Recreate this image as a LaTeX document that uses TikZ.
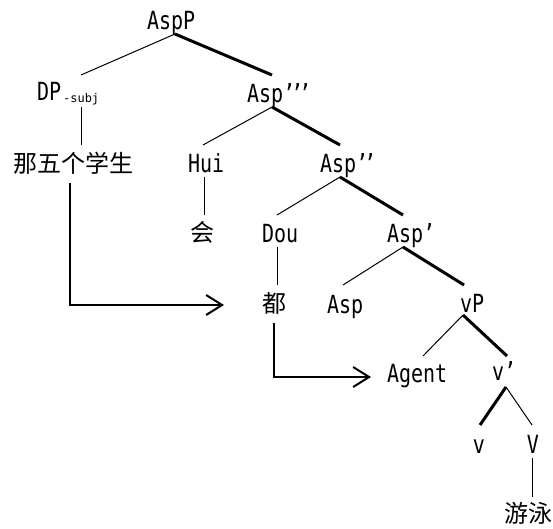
\documentclass[tikz,border=0pt]{standalone}
\usepackage{fontspec}
\newfontfamily\monof{DejaVu Sans Mono}
\newfontfamily\cjkf{Noto Sans CJK SC}
\usetikzlibrary{arrows.meta}
\newcommand{\lt}[1]{\scalebox{1}[1.25]{\fontsize{20}{20}\monof #1}}
\newcommand{\pk}{\kern-4pt}
\newcommand{\pq}{\char"2019}
\begin{document}
\begin{tikzpicture}[x=1pt,y=-1pt,
  lat/.style={inner sep=0pt,outer sep=0pt,anchor=base west},
  latc/.style={inner sep=0pt,outer sep=0pt,anchor=base},
  cjk/.style={inner sep=0pt,outer sep=0pt,anchor=center,font=\fontsize{24}{24}\cjkf},
  thin/.style={line width=1pt},
  thick/.style={line width=3pt},
  move/.style={line width=2pt,-{Straight Barb[length=16pt,width=20pt,line width=2pt]}}]
\useasboundingbox (0,0) rectangle (553,528);
% nodes
\node[lat] (aspP) at (147,29) {\lt{AspP}};
\node[lat] (dp) at (37,100) {\lt{DP}\kern2pt\raisebox{-2pt}{\fontsize{12}{12}\monof -subj}};
\node[cjk] (subj) at (73,163) {那五个学生};
\node[lat] (asp3) at (247,102) {\lt{Asp\pq\pk\pq\pk\pq}};
\node[lat] (hui) at (188,172) {\lt{Hui}};
\node[cjk] (hui2) at (202,232) {会};
\node[lat] (asp2) at (320,172) {\lt{Asp\pq\pk\pq}};
\node[lat] (dou) at (262,242) {\lt{Dou}};
\node[cjk] (dou2) at (274,303) {都};
\node[lat] (asp1) at (387,242) {\lt{Asp\pq}};
\node[lat] (asp) at (327,313) {\lt{Asp}};
\node[lat] (vP) at (460,312) {\lt{vP}};
\node[lat] (agent) at (387,382) {\lt{Agent}};
\node[lat] (vbar) at (492,380) {\lt{v\pq}};
\node[latc] (v) at (479,453) {\lt{v}};
\node[latc] (V) at (533,453) {\lt{V}};
\node[cjk] (swim) at (528,513) {游泳};
% attachment points
\coordinate (aspP-b) at (175,34);
\coordinate (dp-t) at (81,75);
\coordinate (dp-b) at (81,107);
\coordinate (subj-t) at (81,145);
\coordinate (subj-b) at (70,183);
\coordinate (asp3-t) at (272,75);
\coordinate (asp3-b) at (272,107);
\coordinate (hui-t) at (203,145);
\coordinate (hui-b) at (204,177);
\coordinate (hui2-t) at (204,215);
\coordinate (asp2-t) at (340,145);
\coordinate (asp2-b) at (340,177);
\coordinate (dou-t) at (277,215);
\coordinate (dou-b) at (277,247);
\coordinate (dou2-t) at (277,285);
\coordinate (dou2-b) at (274,323);
\coordinate (asp1-t) at (403,215);
\coordinate (asp1-b) at (403,247);
\coordinate (asp-t) at (343,285);
\coordinate (vP-t) at (464,285);
\coordinate (vP-b) at (463,315);
\coordinate (agent-t) at (423,356);
\coordinate (vbar-t) at (507,356);
\coordinate (vbar-b) at (506,387);
\coordinate (v-t) at (480,425);
\coordinate (V-t) at (532,425);
\coordinate (V-b) at (532,458);
\coordinate (swim-t) at (532,497);
\coordinate (tgt1) at (224,305);
\coordinate (tgt2) at (371,377);
% edges
\draw[thin] (aspP-b) -- (dp-t);
\draw[thick] (aspP-b) -- (asp3-t);
\draw[thin] (dp-b) -- (subj-t);
\draw[thin] (asp3-b) -- (hui-t);
\draw[thick] (asp3-b) -- (asp2-t);
\draw[thin] (hui-b) -- (hui2-t);
\draw[thin] (asp2-b) -- (dou-t);
\draw[thick] (asp2-b) -- (asp1-t);
\draw[thin] (dou-b) -- (dou2-t);
\draw[thin] (asp1-b) -- (asp-t);
\draw[thick] (asp1-b) -- (vP-t);
\draw[thin] (vP-b) -- (agent-t);
\draw[thick] (vP-b) -- (vbar-t);
\draw[thick] (vbar-b) -- (v-t);
\draw[thin] (vbar-b) -- (V-t);
\draw[thin] (V-b) -- (swim-t);
% movement arrows
\draw[move] (subj-b) |- (tgt1);
\draw[move] (dou2-b) |- (tgt2);
\end{tikzpicture}
\end{document}
